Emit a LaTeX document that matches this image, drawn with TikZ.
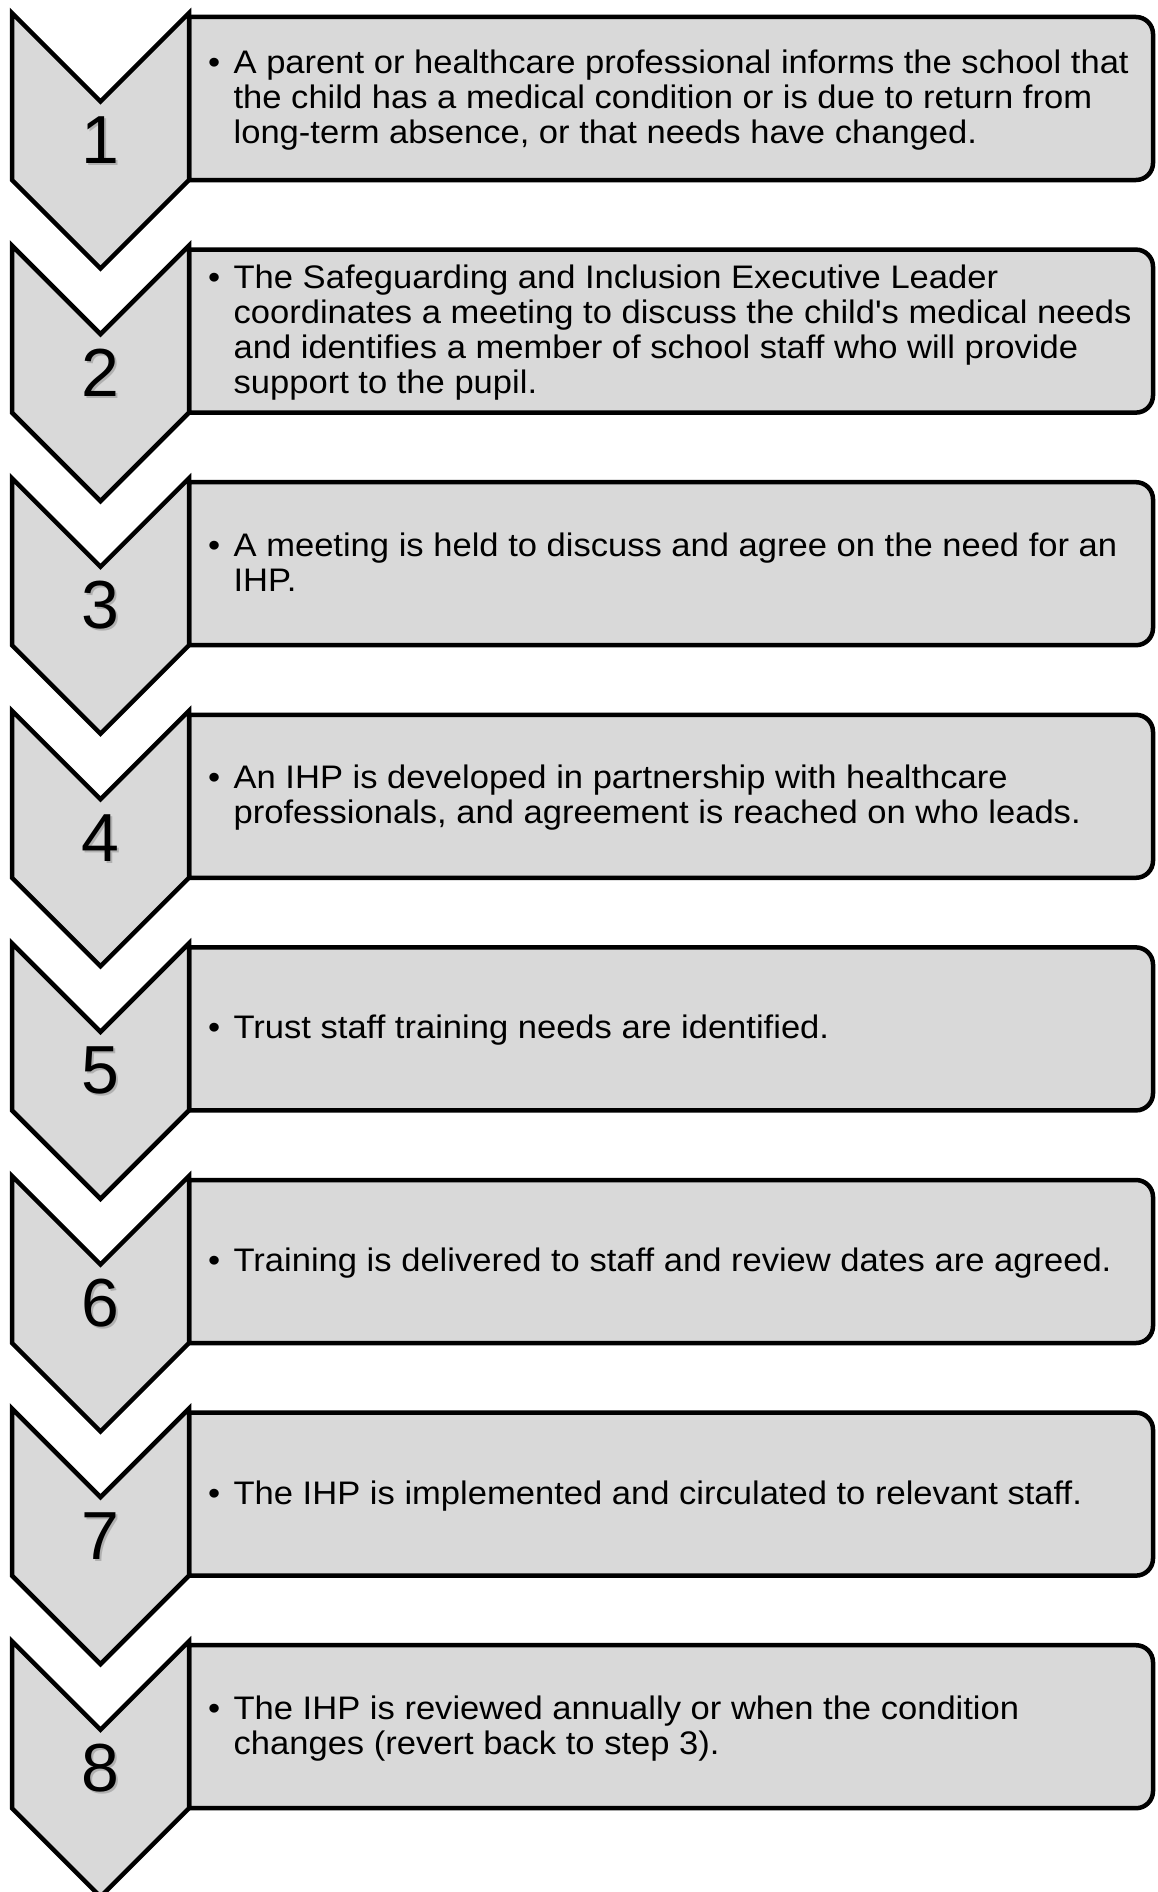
\documentclass[tikz,border=0pt]{standalone}
\usepackage{fontspec}
\setmainfont{Liberation Sans}
\font\aposfont="Liberation Sans" at 32.6pt
\newcommand\apos{{\aposfont'}}
\definecolor{fillg}{HTML}{D9D9D9}
\tikzset{
  chev/.style={draw=black, fill=fillg, line width=4.5pt, line join=miter},
  stepbox/.style={draw=black, fill=fillg, line width=4.5pt},
  num/.style={font=\fontsize{68}{80}\selectfont, inner sep=0pt, text=black},
  numshadow/.style={font=\fontsize{68}{80}\selectfont, inner sep=0pt, text=black!50, opacity=0.45},
  desc/.style={font=\fontsize{32.6}{35}\selectfont, inner sep=0pt, anchor=west, align=left},
}
\begin{document}
\begin{tikzpicture}[x=1pt,y=1pt]
\useasboundingbox (0,0) rectangle (1157,-1892);
\foreach \i/\txt in {
 1/{\textbullet & A parent or healthcare professional informs the school that\\ & the child has a medical condition or is due to return from\\ & long-term absence, or that needs have changed.},
 2/{\textbullet & The Safeguarding and Inclusion Executive Leader\\ & coordinates a meeting to discuss the child\apos s medical needs\\ & and identifies a member of school staff who will provide\\ & support to the pupil.},
 3/{\textbullet & A meeting is held to discuss and agree on the need for an\\ & IHP.},
 4/{\textbullet & An IHP is developed in partnership with healthcare\\ & professionals, and agreement is reached on who leads.},
 5/{\textbullet & Trust staff training needs are identified.},
 6/{\textbullet & Training is delivered to staff and review dates are agreed.},
 7/{\textbullet & The IHP is implemented and circulated to relevant staff.},
 8/{\textbullet & The IHP is reviewed annually or when the condition\\ & changes (revert back to step 3).}}
{
  \pgfmathsetmacro\T{-(13+(\i-1)*232.6)}
  \draw[stepbox] (189,\T-4) -- (1136,\T-4) arc[start angle=90,end angle=0,radius=17pt]
     -- (1153,\T-150) arc[start angle=0,end angle=-90,radius=17pt]
     -- (189,\T-167) -- cycle;
  \draw[chev] (12,\T) -- (100.5,\T-88.5) -- (189,\T) -- (189,\T-167)
     -- (100.5,\T-255.5) -- (12,\T-167) -- cycle;
  \node[numshadow] (s\i) at (102.5,\T-129) {\i};
  \node[num] (n\i) at (100.5,\T-127) {\i};
  \node[desc] (t\i) at (208,\T-88.5) {\scalebox{1.06}[1]{\begin{tabular}{@{}p{24pt}@{}l@{}}\txt\end{tabular}}};
}
\end{tikzpicture}
\end{document}
